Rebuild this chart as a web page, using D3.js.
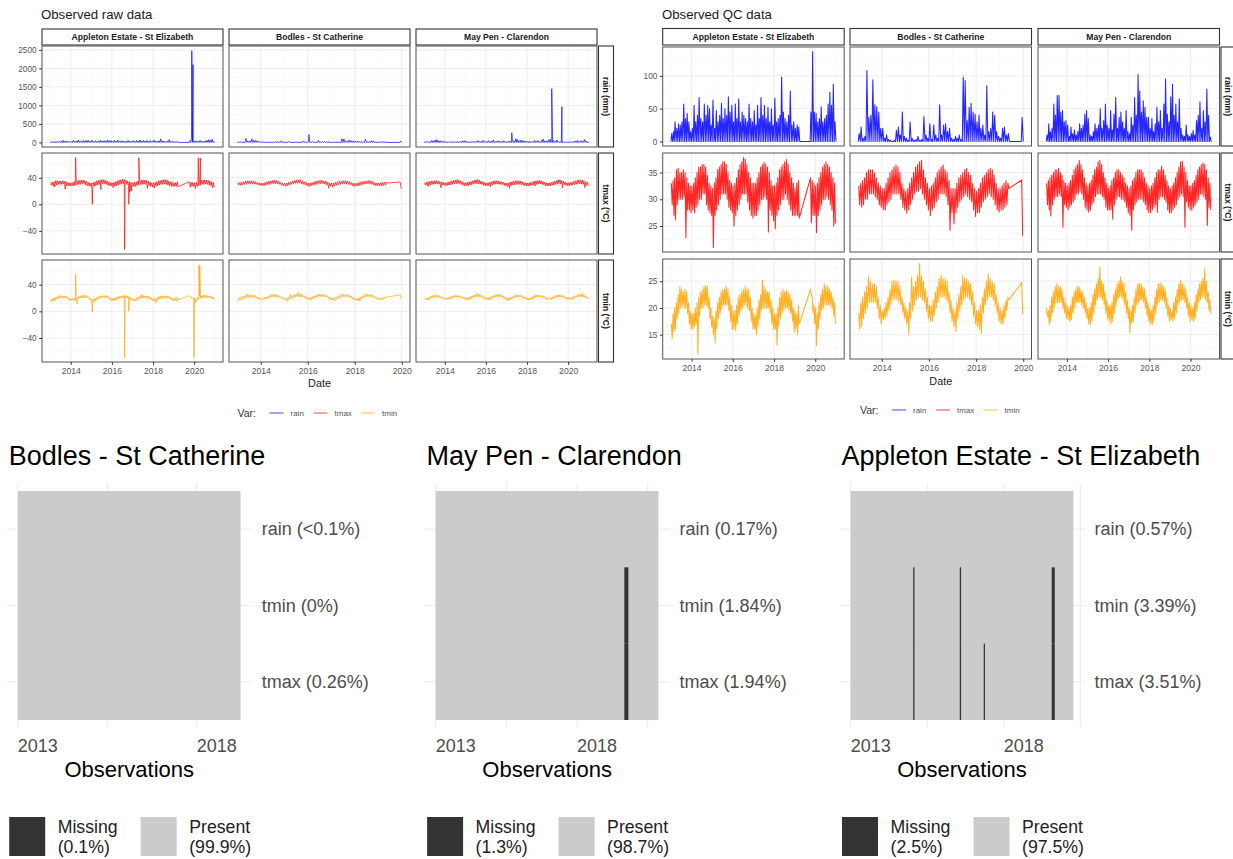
<!DOCTYPE html>
<html><head><meta charset="utf-8">
<script src="https://cdn.jsdelivr.net/npm/d3@7"></script>
<style>
body{margin:0;background:#fff;}
svg text{font-family:"Liberation Sans",Arial,sans-serif;}
</style></head><body>
<svg id="c" width="1233" height="859"></svg>
<script>
const _ = null;
// ---------------- DATA ----------------
const stations = ["Appleton Estate - St Elizabeth","Bodles - St Catherine","May Pen - Clarendon"];
const variables = ["rain","tmax","tmin"];
const varLabels = ["rain (mm)","tmax (°C)","tmin (°C)"];
const varColors = ["#0000FF","#FF0000","#FFA500"];
const startYear = 2013;
const yearTicks = [2014,2016,2018,2020];
const yearMinor = [2013,2015,2017,2019,2021];
const rawRainTicks = [0,500,1000,1500,2000,2500];
const rawTmaxTicks = [-40,0,40];
const rawTminTicks = [-40,0,40];
const qcRainTicks = [0,50,100];
const qcTmaxTicks = [25,30,35];
const qcTminTicks = [15,20,25];

// monthly peak daily rain (mm), Jan 2013 onward
const appletonRain = [12,15,30,20,27,25,30,57,35,43,30,15, 20,55,30,40,67,35,30,57,40,55,50,25, 63,20,47,30,40,58,35,50,40,68,45,55, 30,57,35,65,30,45,40,35,30,57,35,30, 47,25,55,35,67,40,55,35,52,30,50,25, 66,30,35,40,98,45,35,30,40,77,25,30, 20,25,22,_,_,_,_,_,_,45,137,45, 43,30,35,53,30,35,40,57,75,55,87,30];
const bodlesRain = [12,22,5,8,108,37,40,94,56,53,45,20, 20,5,10,3,2,0,2,17,22,10,45,8, 5,2,30,5,2,3,8,2,3,38,10,5, 27,3,25,10,5,56,10,25,27,15,20,5, 3,8,5,10,3,98,93,32,52,58,45,42, 30,40,20,25,10,85,15,20,45,40,15,8, 5,20,22,10,12,_,_,_,_,_,_,37];
const mayPenRain = [10,27,15,20,57,40,70,70,45,47,30,32, 25,8,22,12,18,10,15,27,20,25,42,47, 35,10,8,15,27,20,25,50,20,32,57,25, 20,47,18,42,67,20,37,45,30,20,47,15, 12,37,25,67,40,102,77,45,62,52,37,37, 20,35,15,27,52,30,47,20,57,95,42,30, 68,87,40,57,30,65,20,10,8,25,10,8, 12,17,10,32,40,60,20,47,30,80,40,7];

// monthly high / low of daily tmax (°C)
const appletonTmaxHi = [33,33.5,34,35.5,35.8,35,35,35.5,35,34,33,32.5, 32.5,33,34,35,36,36,36.5,36.5,36,34.5,33,32.5, 32,33,34,35.5,36,36.5,37,37,36.5,35,33.5,33, 32.5,33,34,35.5,36.5,37,37.8,37.5,36.5,35,34,33, 33,33,34,35,36,36.5,36.9,36.5,36,35,33.5,32.5, 32.5,33,34,35.5,36,36.5,37,37.4,36.5,35,34,33, 32,33,33.5,_,_,_,_,_,_,34,33.5,33, 32.5,33,34,35,36,36.5,37,36.5,36,35,34,33];
const appletonTmaxLo = [29,27,26.2,29,30,30,30,30.5,22.8,28,28,27.5, 28,27.5,28.5,29,30,30,31,31,29,28,27.5,27, 21,27,28,29,30,31,31,31,30,28.5,28,27.5, 25,27,28,29,30,31,31,31,29.5,28,27,26.5, 27,27,28,29,30,30,30.5,30,23.9,28,27,26, 24.5,27,28,29,30,30,31,30,29,28,27,27, 27,27,26.5,_,_,_,_,_,_,25.6,27,27, 23.8,27,28,29,30,30,30.5,30,29,28,25,25.5];
const bodlesTmaxHi = [32.5,33,33.5,34,35,35.5,35.5,35.5,35,34,33,32.5, 32,32,33,34,35,35.5,36,36.4,36,35,33,32, 31.5,32,33,34,35,36,36.5,37,37.3,35.5,34,33, 32,32.5,33,34,35,35.5,36,36.4,35.5,35,33.5,32, 32,32,33,34,34.5,35,35.5,35.8,35,34.5,33,32, 31.5,32,33,34,34.5,35,35.5,35.8,35.5,34.5,33,32, 32,32.5,33,33.5,33,_,_,_,_,_,_,33.6];
const bodlesTmaxLo = [29,28.5,29,30,30,31,31,31,30.5,30,29,28.5, 28,28,29,29.5,30,31,31,31,31,30,28.5,28, 27.4,28,29,30,31,31.5,31.5,32,31,30,29,28, 27,28,28.5,29.5,30,31,31,31,30.5,29,24.2,27.5, 25.5,27.5,28.5,29.5,30,30.5,31,30.5,30,29.5,28,26.8, 27.5,27.6,28.5,29.5,30,30.5,31,30.5,30,29,28,27.6, 28,28,28.5,29,32,_,_,_,_,_,_,23.2];
const mayPenTmaxHi = [33,33.5,34,34.5,35,35.5,35.5,35.8,35,34.5,33.5,33, 32.5,33,33.5,34.5,35.5,36,36.5,37.3,36.5,35.5,34,33, 32.5,33,33.5,34.5,35.5,36,37,37.3,36.5,35,34,33, 32,32.5,33.5,34,35,35.5,35.5,35,34.5,34,33,32.5, 32,32.5,33.5,34,35,35.5,35.5,35.5,35,34,33,32.5, 32,32.5,33,34,35,35.5,35.5,36.2,35.5,34.5,33.5,32.5, 32,32.5,33,34,35,36,37,37.1,36,35,33.5,32.5, 32.5,33,33.5,34.5,35.5,36,36.5,36.8,36.5,35.5,34,33];
const mayPenTmaxLo = [29,28,26.9,29,30,30.5,30.5,31,30.5,24.8,29,28.5, 28,28.5,29,29.5,30,31,31,31.5,31,30,28.5,28, 27.6,28,29,29.5,30.5,31,31,31,30.5,30,28.5,28, 28,28,26.3,29,30,30.5,30.5,30,30,29.5,28.5,27.5, 27,24.2,28,29,29.5,30,30,30,29.5,29,28,27.5, 27.5,28,28.5,29,27.6,30,30.5,30.5,30,29.5,28,27.5, 27.5,28,28.5,29,30,30.5,31,30.5,24.8,29.5,28.5,28, 28,28.5,29,29.5,30,31,31,30.5,30,25.1,28.5,28];

// monthly high / low of daily tmin (°C)
const appletonTminHi = [17,19,20,21,22.5,24,23.5,23,23.5,23,21,19.5, 19,19,20,21,22,23,23.5,24,24.2,24,22,20, 18.5,18,19.5,21,22,23,23.5,23.5,24,23.5,22,20.5, 19.5,19.5,20.5,22,22.5,23,23.5,24,23.5,23.5,22,20, 19,18.5,20,21.5,22.5,25.2,24,23.5,23,23,21.5,20, 19,19,20,22,23,23.5,23,23.3,23,22.5,21.5,20, 19.5,19,20.5,_,_,_,_,_,_,23.5,22,20.5, 20,19,21,22.5,23.5,24.5,24,24,23.5,23,22,21];
const appletonTminLo = [14.2,15.5,16,18,19,20,20.5,20,20,19,17,16, 16,16.5,17,11.3,18.5,20,20,20.5,20.5,20,18,16.5, 15,13.5,16,18,19,20,20.5,20.5,20.5,19.5,17.5,16, 16,15.8,17,18.5,19.5,20,20.5,20.5,20,19.5,17.5,16, 16,15,16.5,18,19.5,20,20,20,20,19,17,16, 16,13,16.5,18,19,19.5,20,20,19.5,19,17.5,15.5, 16,15,17,_,_,_,_,_,_,22.5,19,17, 13,16,18,19.5,20,20.5,20.5,20.5,20.5,20,18.5,17];
const bodlesTminHi = [19,21,22,23,24,25.8,25,24.5,24.5,24,22,20.5, 19.5,20,21,22,23.5,25,25.2,25,25,24,22,21, 20,19.5,21,25.8,24,25,26,28.3,26,25,23.5,22, 20.5,20.5,21.5,23,24,25.5,26.1,25.5,25.5,25,23,21.5, 20,19.5,21,22.5,24,26.1,25.5,25.5,25,24.5,23,21, 19.5,19.5,20.5,22,23.5,25,26.4,25.5,25,24.5,22.5,21, 20,19.5,20.5,21.5,22,_,_,_,_,_,_,24.7];
const bodlesTminLo = [16,16.5,18,19,20,21,21,21,21,20,18,17, 17.8,18,18.5,19.5,20.5,21.5,21.5,21.5,21,20.5,19,18, 17,15,18,19.5,20.5,21.5,22,22,21.5,21,19.5,18, 17.5,17.5,18.5,20,21,22,22,22,21.5,21,19,17.5, 16.5,15.6,18,19.5,20.5,21.5,22,22,21.5,20.5,18.5,17, 16.5,16,15.3,19,20.5,21.5,22,22,21.5,20.5,19,17.5, 17,16.9,18,19.5,21.5,_,_,_,_,_,_,18.8];
const mayPenTminHi = [20,19.5,20.5,22,23,24,24.6,24,24,23.5,22,21, 20.5,20,20.5,22,23,23.5,24,24,23.5,23,22,21, 20,20,21,22.5,23.5,24.5,25.5,27.6,25,24.5,23,21.5, 20.5,20.5,21,22.5,23.5,24.5,25,25.8,25,24.5,23,21.5, 20,19.5,20.5,22,23.5,24.5,24.6,24.5,24,23.5,22,21, 20,19.5,20.5,22,23.5,24.5,24.6,24.5,24,23.5,22,20.5, 20,19.5,21,22,23.5,24.5,25.2,24.5,24,23.5,22,21, 20.5,20,21,22.5,23.5,24.5,25,25.5,27.3,25,23,21.5];
const mayPenTminLo = [18.4,16.9,17.5,19,20,21,21,21,21,20,19,18, 17.8,17.5,17.8,19,20,21,21,21,20.5,20,19,18, 17,16.9,17.5,19,20.5,21.5,22,22,21.5,20.5,19,18, 17.5,17,17.5,19,20.5,21.5,22,22,21.5,20.5,19,18, 15.3,17.2,17.5,19,20.5,21,21.5,21.5,21,20,18.5,17.5, 17,16.9,17.5,19,20.5,21,21.5,21.5,21,20,18.5,17.5, 17.8,17.5,18,19,20.5,21,21.5,21.5,21,20,18.5,17.5, 17.8,17.5,18,19.5,21,21.5,22,22,21.5,21,19.5,19];

// raw values removed by QC (date, value)
const appletonRawRainOut = [["2019-11-20",2480],["2019-12-12",2100]];
const bodlesRawRainOut = [["2016-01-20",210]];
const mayPenRawRainOut = [["2017-04-05",260],["2019-03-15",1450],["2019-09-12",965]];
const appletonRawTmaxOut = [["2014-03-28",70.4],["2015-01-19",0],["2015-06-20",22],["2016-08-12",-68],["2016-08-16",-66],["2016-10-27",0],["2016-11-15",18],["2016-12-10",20],["2017-04-23",70],["2020-03-14",70],["2020-04-20",70]];
const appletonRawTminOut = [["2014-03-28",56],["2015-01-19",-1],["2016-08-14",-69],["2016-10-27",0],["2019-12-31",-69],["2020-03-25",70],["2020-04-10",68]];

// missing-data summaries
const missStations = ["Bodles - St Catherine","May Pen - Clarendon","Appleton Estate - St Elizabeth"];
const missRows = ["rain","tmin","tmax"];
const bodlesMissPct = ["<0.1%","0%","0.26%"];
const mayPenMissPct = ["0.17%","1.84%","1.94%"];
const appletonMissPct = ["0.57%","3.39%","3.51%"];
const missTotal = ["0.1%","1.3%","2.5%"];
const presentTotal = ["99.9%","98.7%","97.5%"];
const missObsCount = [2490,3152,2910];
const missTickObs = [0,1000,2000,3000];
const missTickLabels = ["2013","","2018",""];
const bodlesGaps = [];
const mayPenGaps = [[2669,2726,"tmin"],[2669,2726,"tmax"]];
const appletonGaps = [[817,834,"tmin"],[817,834,"tmax"],[1426,1443,"tmin"],[1426,1443,"tmax"],[1739,1755,"tmax"],[2627,2667,"tmin"],[2627,2667,"tmax"]];

// ---------------- BUILD ----------------
const svg = d3.select("#c");
svg.append("rect").attr("width",1233).attr("height",859).attr("fill","#fff");
const parseD = d3.timeParse("%Y-%m-%d");

function zig(hi, lo){
  const pts=[];
  hi.forEach((h,i)=>{ if(h==null) return;
    pts.push({d:new Date(startYear,i,8),v:h});
    pts.push({d:new Date(startYear,i,23),v:lo[i]});});
  return pts;
}
function spikes(peaks){
  const pts=[];
  peaks.forEach((p,i)=>{ if(p==null) return;
    pts.push({d:new Date(startYear,i,1),v:0});
    pts.push({d:new Date(startYear,i,15),v:p});
    pts.push({d:new Date(startYear,i+1,1),v:0});});
  return pts;
}
function merge(pts, out){
  return pts.concat(out.map(o=>({d:parseD(o[0]),v:o[1]}))).sort((a,b)=>a.d-b.d);
}
const qc = [
  [spikes(appletonRain), zig(appletonTmaxHi,appletonTmaxLo), zig(appletonTminHi,appletonTminLo)],
  [spikes(bodlesRain), zig(bodlesTmaxHi,bodlesTmaxLo), zig(bodlesTminHi,bodlesTminLo)],
  [spikes(mayPenRain), zig(mayPenTmaxHi,mayPenTmaxLo), zig(mayPenTminHi,mayPenTminLo)]
];
const raw = [
  [merge(qc[0][0],appletonRawRainOut), merge(qc[0][1],appletonRawTmaxOut), merge(qc[0][2],appletonRawTminOut)],
  [merge(qc[1][0],bodlesRawRainOut), qc[1][1], qc[1][2]],
  [merge(qc[2][0],mayPenRawRainOut), qc[2][1], qc[2][2]]
];

function expand(ext){ const r=ext[1]-ext[0]; return [ext[0]-0.05*r, ext[1]+0.05*r]; }
function minorOf(t){ const s=t[1]-t[0]; const m=[]; for(let v=t[0]-s/2; v<=t[t.length-1]+s/2+1e-9; v+=s) m.push(v); return m; }

function drawFacet(cfg){
  const g = svg.append("g");
  g.append("text").attr("x",cfg.titleX).attr("y",cfg.titleY).attr("font-size",13.2).attr("fill","#1a1a1a").text(cfg.title);
  const yDomains = variables.map((v,ri)=>expand(d3.extent(cfg.data.flatMap(s=>s[ri]), d=>d.v)));
  stations.forEach((st,ci)=>{
    const x0=cfg.colX[ci], w=cfg.colW;
    const xDom = expand(d3.extent(cfg.data[ci].flat(), d=>+d.d));
    const xs = d3.scaleTime().domain(xDom.map(t=>new Date(t))).range([x0,x0+w]);
    g.append("rect").attr("x",x0).attr("y",cfg.stripY).attr("width",w).attr("height",cfg.stripH)
      .attr("fill","#fff").attr("stroke","#333").attr("stroke-width",1.1);
    g.append("text").attr("x",x0+w/2).attr("y",cfg.stripY+cfg.stripH/2).attr("dy","0.36em")
      .attr("text-anchor","middle").attr("font-size",8.6).attr("font-weight","bold").attr("fill","#1a1a1a").text(st);
    const xMaj = yearTicks.map(y=>new Date(y,0,1)).filter(d=>d>=xs.domain()[0]&&d<=xs.domain()[1]);
    const xMin = yearMinor.map(y=>new Date(y,0,1)).filter(d=>d>=xs.domain()[0]&&d<=xs.domain()[1]);
    variables.forEach((v,ri)=>{
      const y0=cfg.rowY[ri], h=cfg.rowH[ri];
      const ys = d3.scaleLinear().domain(yDomains[ri]).range([y0+h,y0]);
      const ticks = cfg.yTicks[ri];
      const minors = minorOf(ticks).filter(t=>t>=yDomains[ri][0]&&t<=yDomains[ri][1]);
      const p = g.append("g");
      p.append("rect").attr("x",x0).attr("y",y0).attr("width",w).attr("height",h).attr("fill","#fff");
      p.selectAll(".ymin").data(minors).join("line").attr("x1",x0).attr("x2",x0+w).attr("y1",d=>ys(d)).attr("y2",d=>ys(d)).attr("stroke","#F3F3F3").attr("stroke-width",0.5);
      p.selectAll(".xmin").data(xMin).join("line").attr("x1",d=>xs(d)).attr("x2",d=>xs(d)).attr("y1",y0).attr("y2",y0+h).attr("stroke","#F3F3F3").attr("stroke-width",0.5);
      p.selectAll(".ymaj").data(ticks).join("line").attr("x1",x0).attr("x2",x0+w).attr("y1",d=>ys(d)).attr("y2",d=>ys(d)).attr("stroke","#E8E8E8").attr("stroke-width",0.8);
      p.selectAll(".xmaj").data(xMaj).join("line").attr("x1",d=>xs(d)).attr("x2",d=>xs(d)).attr("y1",y0).attr("y2",y0+h).attr("stroke","#E8E8E8").attr("stroke-width",0.8);
      const line = d3.line().x(d=>xs(d.d)).y(d=>ys(d.v));
      p.append("path").attr("d",line(cfg.data[ci][ri])).attr("fill","none").attr("stroke",varColors[ri])
        .attr("stroke-width",cfg.strokeW).attr("stroke-opacity",0.85).attr("stroke-linejoin","round");
      p.append("rect").attr("x",x0).attr("y",y0).attr("width",w).attr("height",h).attr("fill","none").attr("stroke","#555").attr("stroke-width",1);
      if(ci===0){
        const ax = g.append("g").attr("transform",`translate(${x0},0)`).call(d3.axisLeft(ys).tickValues(ticks).tickSize(2.8).tickPadding(2.5).tickFormat(d3.format("d")));
        ax.select(".domain").remove();
        ax.selectAll("line").attr("stroke","#333");
        ax.selectAll("text").attr("font-size",8.3).attr("fill","#555").style("font-family","Liberation Sans, Arial, sans-serif");
      }
      if(ci===2){
        const rx = cfg.rstripX;
        g.append("rect").attr("x",rx).attr("y",y0).attr("width",cfg.rstripW).attr("height",h).attr("fill","#fff").attr("stroke","#333").attr("stroke-width",1.1);
        g.append("text").attr("transform",`translate(${rx+cfg.rstripW/2},${y0+h/2}) rotate(90)`).attr("dy","0.36em")
          .attr("text-anchor","middle").attr("font-size",8.6).attr("font-weight","bold").attr("fill","#1a1a1a").text(varLabels[ri]);
      }
      if(ri===2){
        const ax = g.append("g").attr("transform",`translate(0,${y0+h})`).call(d3.axisBottom(xs).tickValues(xMaj).tickSize(2.8).tickPadding(3).tickFormat(d3.timeFormat("%Y")));
        ax.select(".domain").remove();
        ax.selectAll("line").attr("stroke","#333");
        ax.selectAll("text").attr("font-size",8.6).attr("fill","#555").style("font-family","Liberation Sans, Arial, sans-serif");
      }
    });
  });
  g.append("text").attr("x",cfg.colX[1]+cfg.colW/2).attr("y",cfg.dateY).attr("text-anchor","middle").attr("font-size",10.8).attr("fill","#1a1a1a").text("Date");
  const lg = g.append("g").attr("transform",`translate(${cfg.legendX},${cfg.legendY})`);
  lg.append("text").attr("x",0).attr("y",0).attr("dy","0.35em").attr("font-size",10.5).attr("fill","#333").text("Var:");
  const offs=[32,76,123.5];
  variables.forEach((v,i)=>{
    lg.append("line").attr("x1",offs[i]).attr("x2",offs[i]+14).attr("y1",0).attr("y2",0).attr("stroke",varColors[i]).attr("stroke-opacity",0.6).attr("stroke-width",1.2);
    lg.append("text").attr("x",offs[i]+21).attr("y",0).attr("dy","0.35em").attr("font-size",8).attr("fill","#555").text(v);
  });
}

drawFacet({title:"Observed raw data", titleX:41, titleY:19, data:raw, strokeW:0.8,
  colX:[42,229,416], colW:181, rowY:[46,153,260], rowH:[101,101,102],
  stripY:29, stripH:16, rstripX:598.5, rstripW:15,
  yTicks:[rawRainTicks,rawTmaxTicks,rawTminTicks], dateY:387, legendX:237.5, legendY:413});
drawFacet({title:"Observed QC data", titleX:662, titleY:18.5, data:qc, strokeW:1.05,
  colX:[662.7,850,1038], colW:181.5, rowY:[47,153,259], rowH:[99,99,100],
  stripY:28.5, stripH:16.5, rstripX:1221, rstripW:15,
  yTicks:[qcRainTicks,qcTmaxTicks,qcTminTicks], dateY:384.5, legendX:860, legendY:410});

// ---------------- MISSING-DATA PLOTS ----------------
const missPct = [bodlesMissPct, mayPenMissPct, appletonMissPct];
const missGaps = [bodlesGaps, mayPenGaps, appletonGaps];
const missPanelX = [6.7,424.6,839.5];
missStations.forEach((st,i)=>{
  const g = svg.append("g");
  const px = missPanelX[i], pw = 245, N = missObsCount[i];
  const xs = d3.scaleLinear().domain([-0.05*N,1.05*N]).range([px,px+pw]);
  const ys = d3.scaleBand().domain(missRows).range([491,720]);
  g.append("text").attr("x",px+2).attr("y",465).attr("font-size",27).attr("fill","#000").text(st);
  const tks = missTickObs.filter(t=>t<=1.05*N);
  g.selectAll(".vg").data(tks).join("line").attr("x1",d=>xs(d)).attr("x2",d=>xs(d)).attr("y1",483).attr("y2",727).attr("stroke","#EBEBEB").attr("stroke-width",1);
  g.selectAll(".hg").data(missRows).join("line").attr("x1",px).attr("x2",px+pw).attr("y1",d=>ys(d)+ys.bandwidth()/2).attr("y2",d=>ys(d)+ys.bandwidth()/2).attr("stroke","#EBEBEB").attr("stroke-width",1);
  g.append("rect").attr("x",xs(0)).attr("y",491).attr("width",xs(N)-xs(0)).attr("height",229).attr("fill","#CBCBCB");
  g.selectAll(".gap").data(missGaps[i]).join("rect").attr("x",d=>xs(d[0])).attr("width",d=>xs(d[1])-xs(d[0]))
    .attr("y",d=>ys(d[2])).attr("height",ys.bandwidth()).attr("fill","#333333");
  missRows.forEach((r,j)=>{
    g.append("text").attr("x",px+pw+10).attr("y",ys(r)+ys.bandwidth()/2).attr("dy","0.35em").attr("font-size",18).attr("fill","#4D4D4D").text(`${r} (${missPct[i][j]})`);
  });
  tks.forEach((t,j)=>{ if(missTickLabels[j]) g.append("text").attr("x",xs(t)).attr("y",752).attr("font-size",18).attr("fill","#4D4D4D").text(missTickLabels[j]); });
  g.append("text").attr("x",px+pw/2).attr("y",777).attr("text-anchor","middle").attr("font-size",22).attr("fill","#000").text("Observations");
  const lx = px+2.5;
  g.append("rect").attr("x",lx).attr("y",817).attr("width",36).attr("height",39).attr("fill","#333333");
  g.append("text").attr("x",lx+48.5).attr("y",833).attr("font-size",17.7).attr("fill","#222").text("Missing");
  g.append("text").attr("x",lx+48.5).attr("y",852.5).attr("font-size",17.7).attr("fill","#222").text(`(${missTotal[i]})`);
  g.append("rect").attr("x",px+134).attr("y",817).attr("width",36).attr("height",39).attr("fill","#CBCBCB");
  g.append("text").attr("x",px+134+48.5).attr("y",833).attr("font-size",17.7).attr("fill","#222").text("Present");
  g.append("text").attr("x",px+134+48.5).attr("y",852.5).attr("font-size",17.7).attr("fill","#222").text(`(${presentTotal[i]})`);
});
</script>
</body></html>
